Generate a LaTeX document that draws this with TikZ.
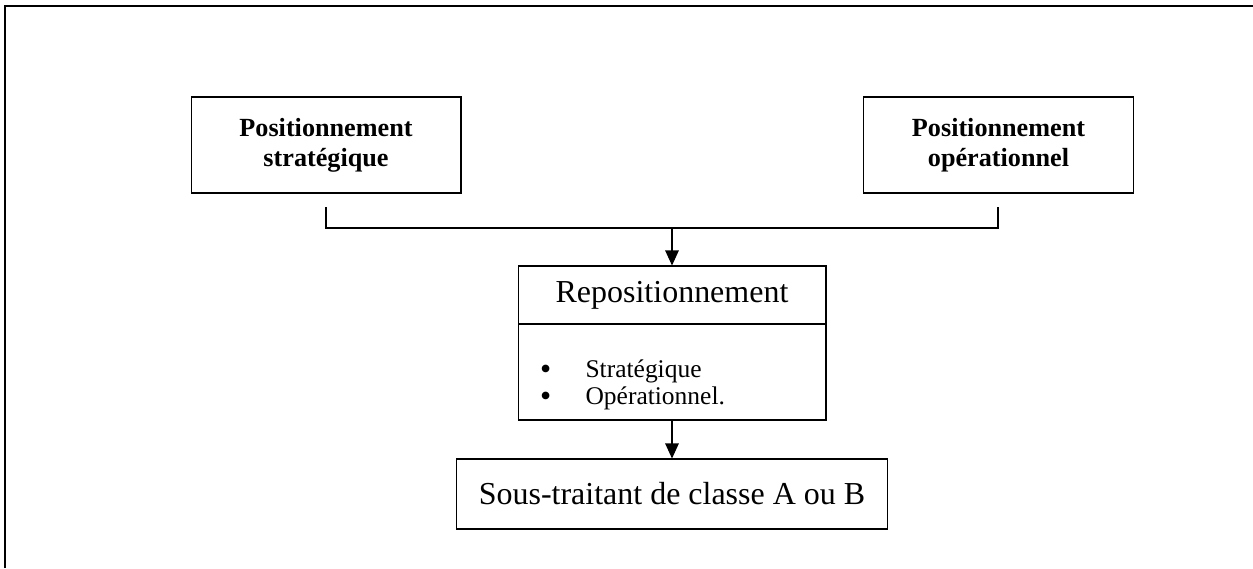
\documentclass[tikz,border=0pt]{standalone}
\usepackage{fontspec}
\setmainfont{Liberation Serif}
\usetikzlibrary{arrows.meta}
\tikzstyle{Heading}=[minimum width=5.4cm, minimum height=1.92cm, fill=white, line width=0.6pt, draw=black, shape=rectangle, align=center, font=\bfseries\fontsize{14.9}{17}\selectfont]
\tikzstyle{Title}=[minimum width=6.16cm, minimum height=1.16cm, fill=white, line width=0.6pt, draw=black, shape=rectangle, font=\fontsize{18.2}{21}\selectfont]
\tikzstyle{List}=[minimum height=1.92cm, text width=5.28cm, inner xsep=0.44cm, fill=white, line width=0.6pt, draw=black, shape=rectangle, align=left, font=\fontsize{14.5}{15.6}\selectfont]
\tikzstyle{Result}=[minimum width=8.64cm, minimum height=1.4cm, fill=white, line width=0.6pt, draw=black, shape=rectangle, font=\fontsize{18.2}{21}\selectfont]
\tikzstyle{arrow}=[line width=0.6pt, -{Triangle[width=0.27cm, length=0.3cm]}]
\tikzstyle{frame}=[line width=1.1pt]
\newcommand{\listbullet}{\smash{\raisebox{-0.08em}{\scalebox{1.25}{\textbullet}}}\hspace{1.35em}}

\begin{document}
\begin{tikzpicture}[x=0.02cm, y=-0.02cm]
	\useasboundingbox (0,0) rectangle (1253,568);
	% outer frame
	\draw [style=frame] (5,568) -- (5,6) -- (1253,6);

	% positioning
	\node [style=Heading] (strategic) at (326,145) {Positionnement\\stratégique};
	\node [style=Heading] (operational) at (998.5,145) {Positionnement\\opérationnel};
	% repositioning
	\node [style=Title] (repos_head) at (672,295) {Repositionnement};
	\node [style=List] (repos_body) at (672,372) {\rule{0pt}{25pt}\listbullet Stratégique\\\listbullet Opérationnel.};
	% result
	\node [style=Result] (subcontractor) at (672,494) {Sous-traitant de classe A ou B};

	% joining lines
	\coordinate (strategic_end) at (326,207);
	\coordinate (operational_end) at (998,207);
	\coordinate (join) at (672,228);
	\draw [line width=0.6pt] (strategic_end) |- (join) -| (operational_end);
	\draw [style=arrow] (join) -- (repos_head.north);
	\draw [style=arrow] (repos_body.south) -- (subcontractor.north);
\end{tikzpicture}
\end{document}
